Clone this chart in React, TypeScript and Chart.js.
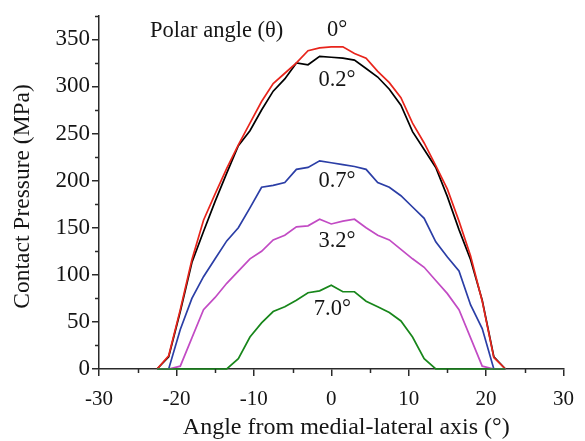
import React, { useEffect, useRef } from 'react';
import { Chart, registerables } from 'chart.js';

Chart.register(...registerables);

// Angle from medial-lateral axis (degrees)
const ANGLES = [
  -22.5, -21, -19.5, -18, -16.5, -15, -13.5, -12, -10.5, -9, -7.5, -6, -4.5, -3, -1.5, 0,
  1.5, 3, 4.5, 6, 7.5, 9, 10.5, 12, 13.5, 15, 16.5, 18, 19.5, 21, 22.5,
];

// Contact pressure (MPa) for each polar angle
const P_0_0 = [
  0, 14, 63, 116, 158, 186, 213, 238, 261, 284, 303, 314, 325, 338, 341, 342,
  342, 335, 330, 316, 304, 288, 261, 240, 216, 191, 157, 120, 72, 12, 0,
];
const P_0_2 = [
  0, 13, 61, 113, 146, 178, 208, 237, 253, 275, 295, 308, 325, 323, 332, 331,
  330, 328, 319, 310, 297, 280, 252, 233, 214, 183, 148, 116, 73, 13, 0,
];
const P_0_7 = [
  0, 0, 42, 75, 98, 117, 136, 150, 171, 193, 195, 198, 212, 214, 221, 219,
  217, 215, 212, 198, 193, 184, 172, 160, 135, 119, 104, 68, 43, 0, 0,
];
const P_3_2 = [
  0, 0, 3, 33, 63, 76, 91, 104, 117, 125, 137, 142, 151, 152, 159, 154,
  157, 159, 150, 142, 137, 127, 117, 108, 94, 80, 63, 33, 3, 0, 0,
];
const P_7_0 = [
  0, 0, 0, 0, 0, 0, 0, 11, 34, 49, 61, 66, 73, 81, 83, 89,
  82, 82, 72, 66, 60, 51, 34, 11, 0, 0, 0, 0, 0, 0, 0,
];

const SERIES_NAMES = ['0°', '0.2°', '0.7°', '3.2°', '7.0°'];
const SERIES_VALUES = [P_0_0, P_0_2, P_0_7, P_3_2, P_7_0];
const SERIES_COLORS = ['#e8251c', '#000000', '#2b3ea6', '#c24bc4', '#17861a'];
const SERIES_ORDER = [3, 4, 2, 1, 0];

const X_MAJOR = [-30, -20, -10, 0, 10, 20, 30];
const X_MINOR = [-25, -15, -5, 5, 15, 25];
const Y_MAJOR = [0, 50, 100, 150, 200, 250, 300, 350];
const Y_MINOR = [25, 75, 125, 175, 225, 275, 325, 375];

const X_TITLE = 'Angle from medial-lateral axis (°)';
const Y_TITLE = 'Contact Pressure (MPa)';

// In-plot labels anchored in data units
const PLOT_LABELS = [
  { text: 'Polar angle (θ)', x: -14.8, y: 359 },
  { text: '0°', x: 0.75, y: 360 },
  { text: '0.2°', x: 0.75, y: 307 },
  { text: '0.7°', x: 0.75, y: 199 },
  { text: '3.2°', x: 0.75, y: 136 },
  { text: '7.0°', x: 0.15, y: 64 },
];

const FONT_FAMILY = "'Liberation Serif', 'Times New Roman', serif";
const AXIS_COLOR = '#2a2a2a';
const TEXT_COLOR = '#151515';

Chart.defaults.font.family = FONT_FAMILY;
Chart.defaults.color = TEXT_COLOR;

const decorPlugin = {
  id: 'decor',
  afterDraw(chart: any) {
    const { ctx, chartArea } = chart;
    const xs = chart.scales.x;
    const ys = chart.scales.y;
    ctx.save();
    ctx.strokeStyle = AXIS_COLOR;
    ctx.lineWidth = 1.5;
    Y_MINOR.forEach((v) => {
      const py = Math.round(ys.getPixelForValue(v)) + 0.5;
      ctx.beginPath();
      ctx.moveTo(chartArea.left - 4, py);
      ctx.lineTo(chartArea.left, py);
      ctx.stroke();
    });
    X_MINOR.forEach((v) => {
      const px = Math.round(xs.getPixelForValue(v)) + 0.5;
      ctx.beginPath();
      ctx.moveTo(px, chartArea.bottom);
      ctx.lineTo(px, chartArea.bottom + 4);
      ctx.stroke();
    });

    ctx.fillStyle = TEXT_COLOR;
    ctx.textAlign = 'center';
    ctx.textBaseline = 'middle';
    ctx.font = `22.5px ${FONT_FAMILY}`;
    PLOT_LABELS.forEach((l) => {
      ctx.fillText(l.text, xs.getPixelForValue(l.x), ys.getPixelForValue(l.y));
    });

    ctx.font = `24px ${FONT_FAMILY}`;
    ctx.textBaseline = 'alphabetic';
    ctx.fillText(X_TITLE, (chartArea.left + chartArea.right) / 2 + 15, chartArea.bottom + 65);

    ctx.font = `23.5px ${FONT_FAMILY}`;
    ctx.translate(29, (chartArea.top + chartArea.bottom) / 2 + 4);
    ctx.rotate(-Math.PI / 2);
    ctx.fillText(Y_TITLE, 0, 0);
    ctx.restore();
  },
};

export default function App() {
  const canvasRef = useRef<HTMLCanvasElement | null>(null);

  useEffect(() => {
    const canvas = canvasRef.current;
    if (!canvas) return;
    const datasets = SERIES_NAMES.map((name, i) => ({
      label: name,
      data: ANGLES.map((a, j) => ({ x: a, y: SERIES_VALUES[i][j] })),
      borderColor: SERIES_COLORS[i],
      backgroundColor: SERIES_COLORS[i],
      borderWidth: 1.7,
      pointRadius: 0,
      tension: 0,
      fill: false,
      clip: false as any,
      order: SERIES_ORDER[i],
    }));

    const xTickFont = { family: FONT_FAMILY, size: 21, style: 'normal' as const, weight: 'normal' as const };
    const yTickFont = { family: FONT_FAMILY, size: 23, style: 'normal' as const, weight: 'normal' as const };

    const chart = new Chart(canvas, {
      type: 'line',
      data: { datasets },
      options: {
        responsive: false,
        animation: false,
        layout: { padding: { top: 7, right: 12, left: 0, bottom: 0 } },
        plugins: {
          legend: { display: false },
          tooltip: { enabled: false },
          title: { display: false },
        },
        scales: {
          x: {
            type: 'linear',
            min: -30,
            max: 30,
            afterBuildTicks: (scale: any) => {
              scale.ticks = X_MAJOR.map((v) => ({ value: v }));
            },
            afterFit: (scale: any) => {
              scale.height = 72;
            },
            ticks: {
              color: TEXT_COLOR,
              font: xTickFont,
              padding: 11,
              maxRotation: 0,
              callback: (v: any) => String(v),
            },
            grid: {
              drawOnChartArea: false,
              drawTicks: true,
              tickLength: 7,
              color: AXIS_COLOR,
              lineWidth: 1.5,
            },
            border: { display: true, color: AXIS_COLOR, width: 1.5 },
          },
          y: {
            type: 'linear',
            min: 0,
            max: 375,
            afterBuildTicks: (scale: any) => {
              scale.ticks = Y_MAJOR.map((v) => ({ value: v }));
            },
            afterFit: (scale: any) => {
              scale.width = 99;
            },
            ticks: {
              color: TEXT_COLOR,
              font: yTickFont,
              padding: 2,
              callback: (v: any) => String(v),
            },
            grid: {
              drawOnChartArea: false,
              drawTicks: true,
              tickLength: 7,
              color: AXIS_COLOR,
              lineWidth: 1.5,
            },
            border: { display: true, color: AXIS_COLOR, width: 1.5 },
          },
        },
      },
      plugins: [decorPlugin],
    });
    return () => chart.destroy();
  }, []);

  return (
    <div style={{ position: 'absolute', left: 0, top: 0, width: 585, height: 441, background: '#fff' }}>
      <canvas ref={canvasRef} width={585} height={441} style={{ display: 'block' }} />
    </div>
  );
}
